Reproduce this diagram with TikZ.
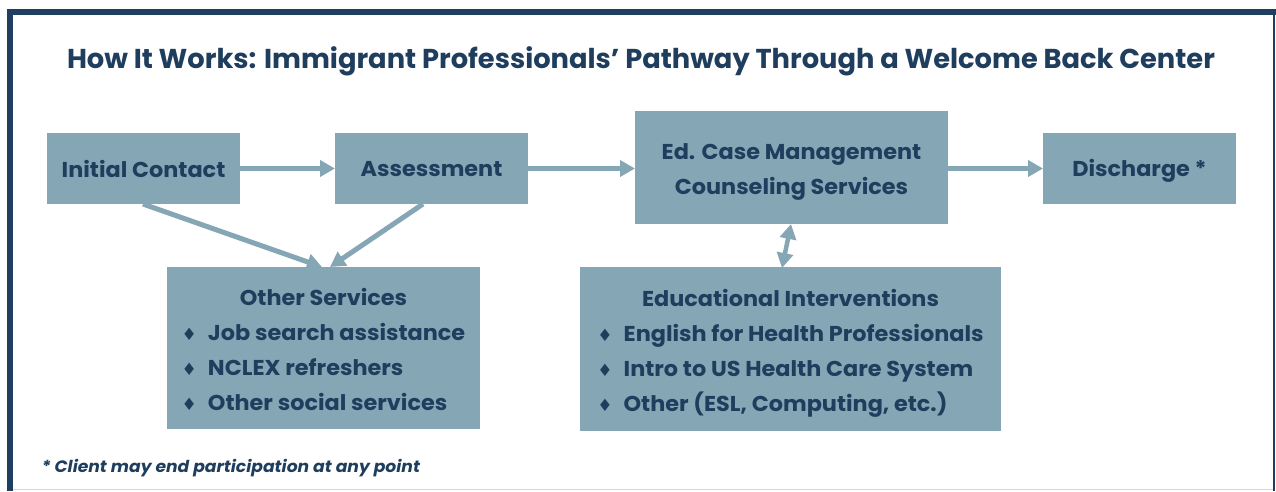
\documentclass[tikz,border=0pt]{standalone}
\usepackage{fontspec}
\setmainfont{Poppins}[FakeStretch=1.04]
\newfontfamily\titlefont{Poppins}
\newfontfamily\dejavu{DejaVu Sans}
\usetikzlibrary{arrows.meta}
\definecolor{boxfill}{RGB}{132,166,181}
\definecolor{navy}{RGB}{31,62,94}
\definecolor{framec}{RGB}{31,63,96}
\definecolor{lightline}{RGB}{208,216,224}
\newcommand{\bul}{{\dejavu\fontsize{17}{17}\selectfont ♦}}
\newcommand{\dropby}[2]{\raisebox{-#1}[\height][\depth]{#2}}
\tikzset{
  box/.style={fill=boxfill, inner sep=0pt, outer sep=0pt, text=navy, font=\bfseries\fontsize{21.5}{35}\selectfont, align=center},
  flow/.style={draw=boxfill, line width=5pt, -{Triangle[length=15pt,width=16pt]}},
  dflow/.style={draw=boxfill, line width=4.5pt, {Triangle[length=15pt,width=16pt]}-{Triangle[length=15pt,width=16pt]}},
}
\begin{document}
\begin{tikzpicture}[x=1pt,y=-1pt]
\useasboundingbox (0,0) rectangle (1276,491);
\fill[white] (0,0) rectangle (1276,491);
% frame
\draw[lightline, line width=1.2pt] (9,489.5) -- (1274,489.5);
\draw[framec, line width=1.6pt] (1274.2,12) -- (1274.2,491);
\draw[framec, line width=5.5pt] (9.8,491) -- (9.8,12) -- (1276,12);
% title
\node[text=navy, font=\titlefont\bfseries\fontsize{27.3}{30}\selectfont] (title) at (641,61) {How It Works: Immigrant Professionals’ Pathway Through a Welcome Back Center};
% boxes
\node[box, minimum width=193pt, minimum height=71pt, anchor=north west] (ic) at (47,133) {Initial Contact};
\node[box, minimum width=193pt, minimum height=71pt, anchor=north west] (as) at (335,133) {\dropby{1pt}{Assessment}};
\node[box, minimum width=313pt, minimum height=113pt, anchor=north west] (ed) at (635,111) {\dropby{2pt}{\begin{tabular}{@{}c@{}}Ed. Case Management\\Counseling Services\end{tabular}}};
\node[box, minimum width=193pt, minimum height=71pt, anchor=north west] (dc) at (1043,133) {\dropby{2pt}{Discharge *}};
\node[box, minimum width=313pt, minimum height=162pt, anchor=north west] (os) at (167,267) {\dropby{2.5pt}{%
\begin{tabular}{@{}c@{\hspace{11pt}}l@{}}
\multicolumn{2}{@{}c@{}}{Other Services}\\
\bul & Job search assistance\\
\bul & NCLEX refreshers\\
\bul & Other social services
\end{tabular}}};
\node[box, minimum width=421pt, minimum height=164pt, anchor=north west] (ei) at (580,267) {\dropby{2.5pt}{%
\begin{tabular}{@{}c@{\hspace{11pt}}l@{}}
\multicolumn{2}{@{}c@{}}{Educational Interventions}\\
\bul & English for Health Professionals\\
\bul & Intro to US Health Care System\\
\bul & Other (ESL, Computing, etc.)
\end{tabular}}};
% connectors
\draw[flow] (ic.east) -- (as.west);
\draw[flow] (as.east) -- (as.east -| ed.west);
\draw[flow] (ed.east |- dc.west) -- (dc.west);
\coordinate (ica) at (143,204);
\coordinate (asa) at (423,204);
\coordinate (osa) at (322,267);
\coordinate (osb) at (330,267);
\draw[flow] (ica) -- (osa);
\draw[flow] (asa) -- (osb);
\coordinate (edb) at (791,224);
\coordinate (eit) at (782,268);
\draw[dflow] (edb) -- (eit);
% footnote
\node[anchor=west, text=navy, font=\bfseries\itshape\fontsize{16.5}{18}\selectfont] (fn) at (38,468) {* Client may end participation at any point};
\end{tikzpicture}
\end{document}
